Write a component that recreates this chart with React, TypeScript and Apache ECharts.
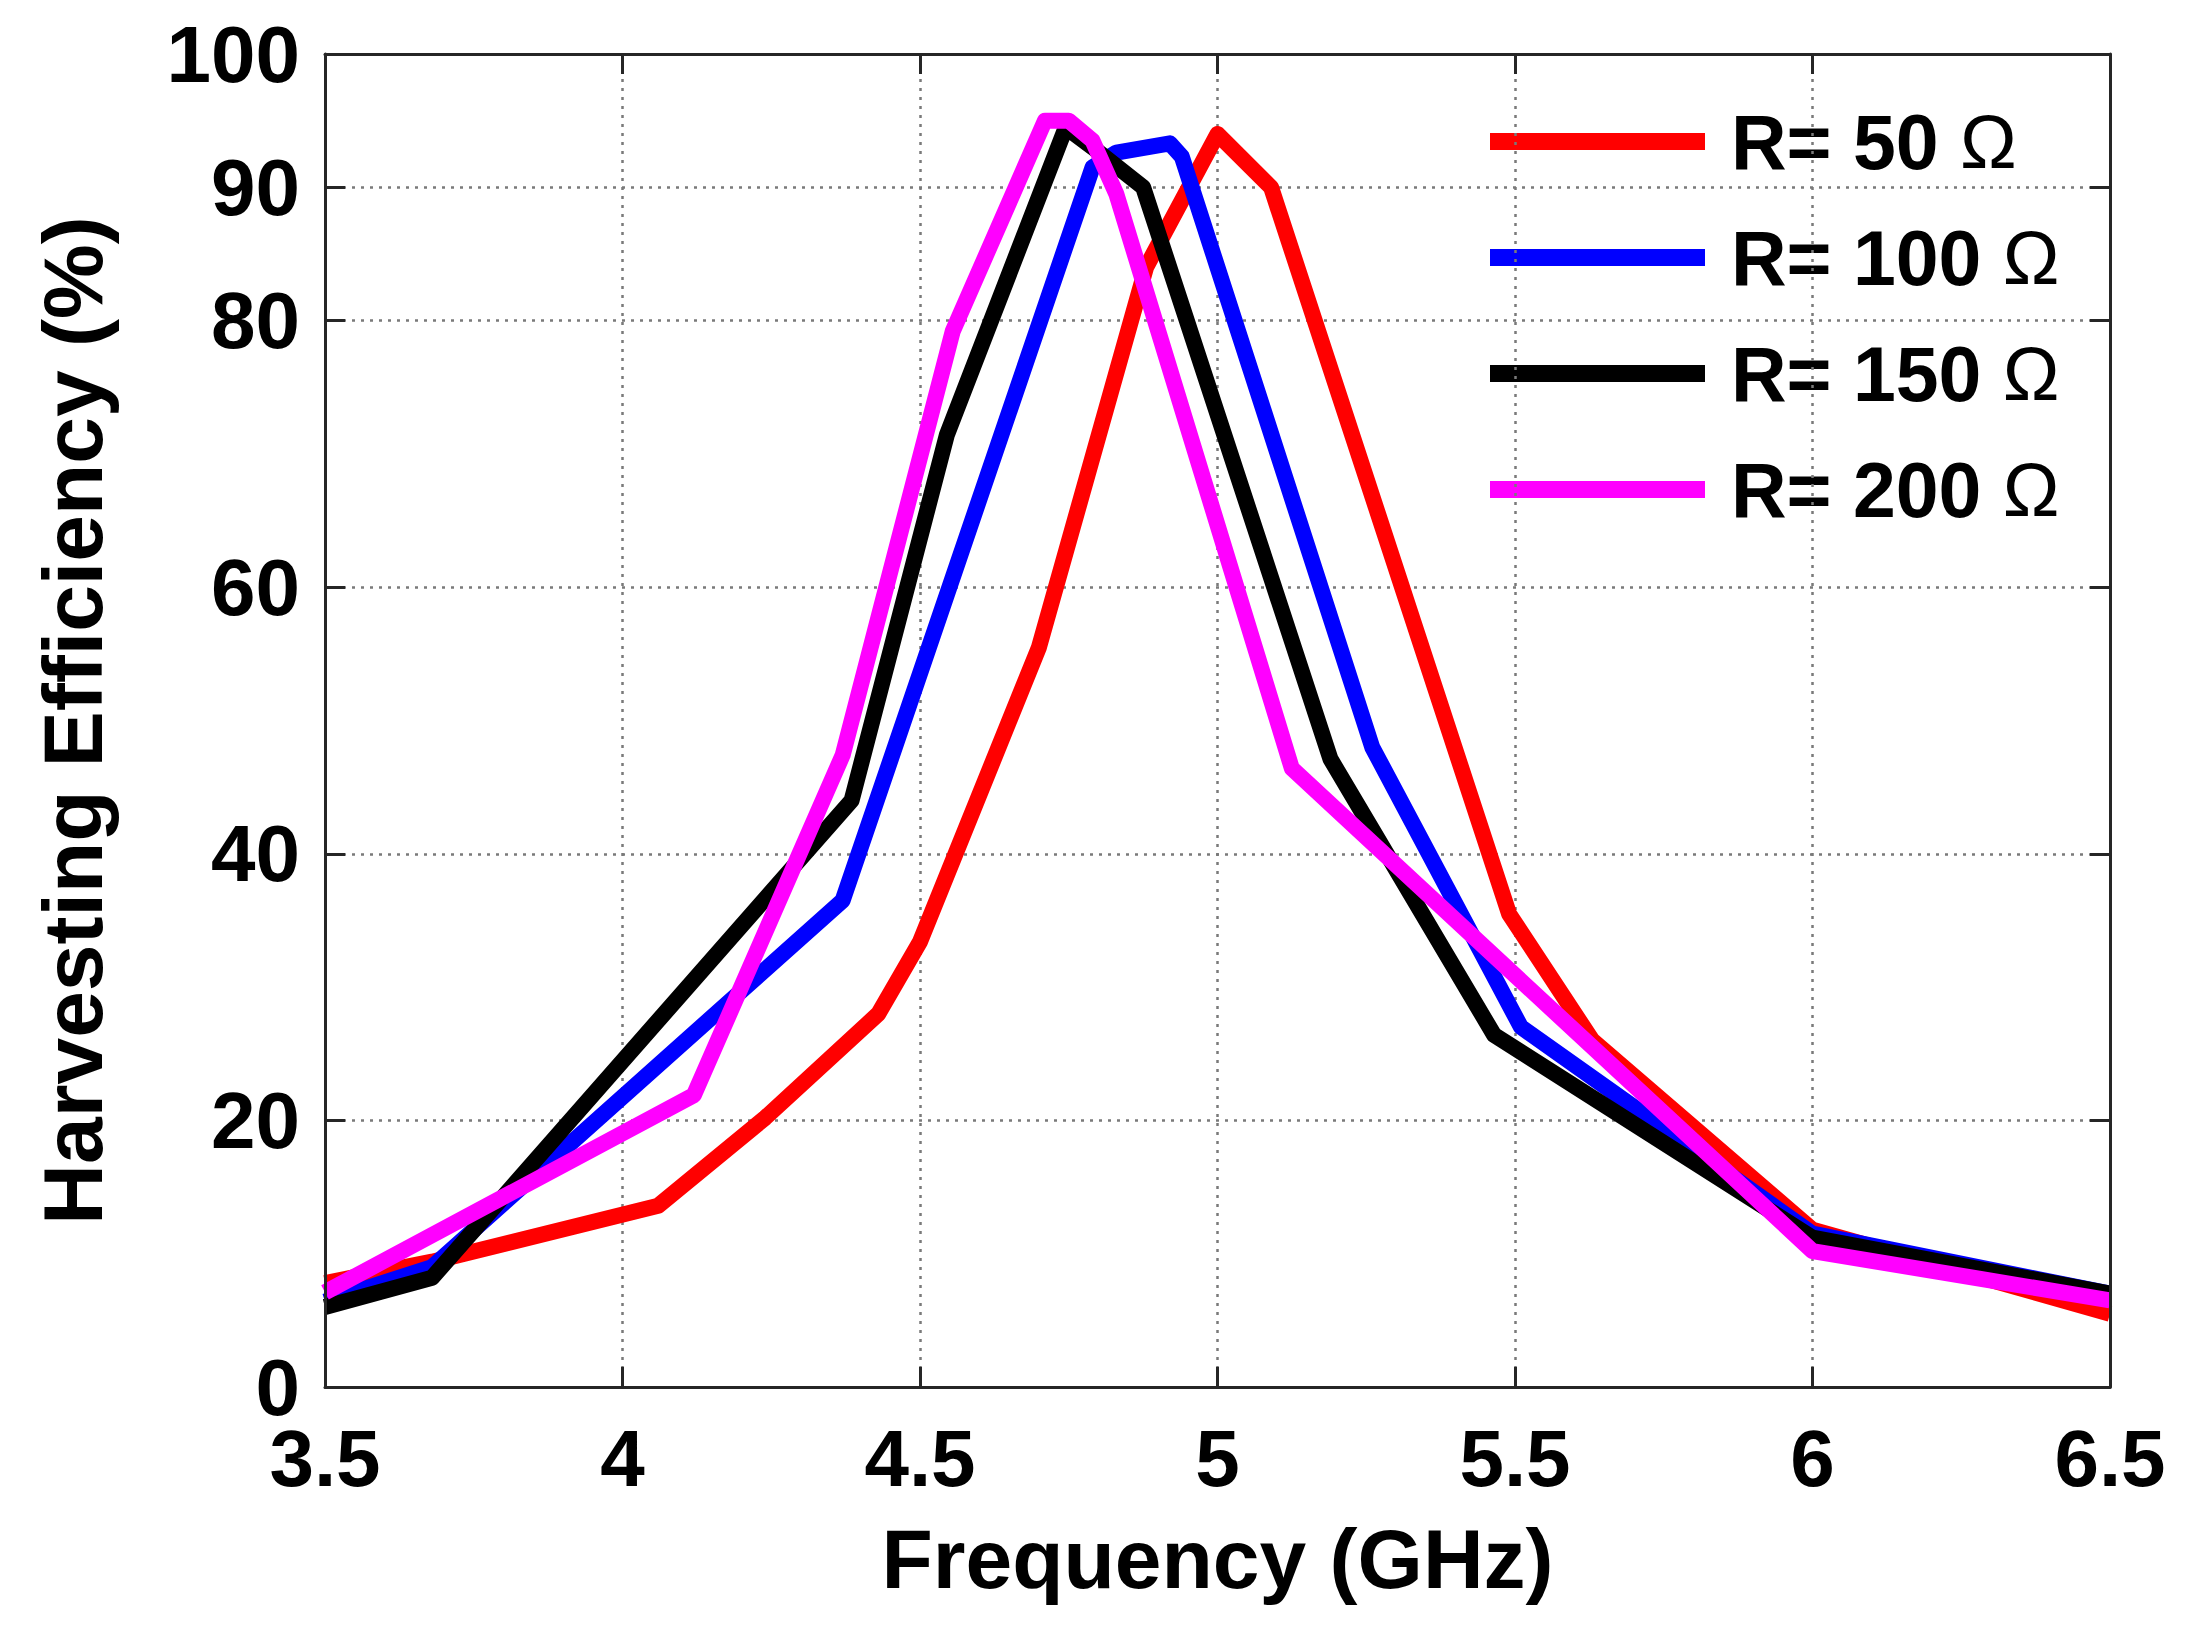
import { useEffect, useRef } from 'react';
import * as echarts from 'echarts';

const FONT = '"Liberation Sans", Arial, sans-serif';

// legend names, in draw order (later series sit on top)
const seriesNames = ['R= 50 Ω', 'R= 100 Ω', 'R= 150 Ω', 'R= 200 Ω'];
const seriesColors = ['#ff0000', '#0000ff', '#000000', '#ff00ff'];

// R = 50 ohm
const freq50 = [3.5, 3.68, 4.06, 4.24, 4.43, 4.5, 4.7, 4.88, 5.0, 5.09, 5.49, 5.63, 6.0, 6.5];
const eff50 = [7.8, 9.4, 13.6, 20.2, 28.0, 33.4, 55.5, 84.0, 94.0, 90.0, 35.5, 26.0, 11.8, 5.5];

// R = 100 ohm
const freq100 = [3.5, 3.68, 4.37, 4.79, 4.83, 4.92, 4.94, 5.26, 5.51, 6.0, 6.5];
const eff100 = [6.4, 9.0, 36.5, 91.5, 92.6, 93.3, 92.3, 48.0, 27.0, 11.5, 7.0];

// R = 150 ohm
const freq150 = [3.5, 3.68, 4.385, 4.545, 4.745, 4.79, 4.875, 5.19, 5.465, 6.0, 6.5];
const eff150 = [6.0, 8.2, 44.0, 71.4, 94.5, 93.0, 90.0, 47.1, 26.4, 11.2, 7.0];

// R = 200 ohm
const freq200 = [3.5, 4.12, 4.37, 4.555, 4.71, 4.75, 4.79, 4.83, 5.125, 6.0, 6.5];
const eff200 = [7.1, 21.9, 47.4, 79.2, 95.0, 95.0, 93.5, 89.5, 46.4, 10.2, 6.5];

const xTicks = [3.5, 4, 4.5, 5, 5.5, 6, 6.5];
const yTicks = [0, 20, 40, 60, 80, 90, 100];
const xGrid = [4, 4.5, 5, 5.5, 6];
const yGrid = [20, 40, 60, 80, 90];

const AXIS_COLOR = '#262626';

function zip(xs: number[], ys: number[]) {
  return xs.map((x, i) => [x, ys[i]]);
}

export default function App() {
  const elRef = useRef<HTMLDivElement | null>(null);

  useEffect(() => {
    if (!elRef.current) return;
    const chart = echarts.init(elRef.current, undefined, { renderer: 'svg' });

    const freqs = [freq50, freq100, freq150, freq200];
    const effs = [eff50, eff100, eff150, eff200];

    const axisCommon = {
      type: 'value' as const,
      z: 10,
      axisLine: { show: true, onZero: false, lineStyle: { color: AXIS_COLOR, width: 3 } },
      axisTick: { show: true, inside: true, length: 20, lineStyle: { color: AXIS_COLOR, width: 3 } },
      splitLine: { show: false },
    };

    const tickLabel = {
      fontSize: 80,
      fontWeight: 'bold' as const,
      color: '#000',
      fontFamily: FONT,
    };

    chart.setOption({
      animation: false,
      backgroundColor: '#ffffff',
      grid: { left: 325, right: 98, top: 54, bottom: 247 },
      xAxis: [
        {
          ...axisCommon,
          position: 'bottom',
          min: 3.5,
          max: 6.5,
          interval: 0.5,
          axisTick: { ...axisCommon.axisTick, customValues: xTicks },
          axisLabel: { ...tickLabel, margin: 31, customValues: xTicks },
          name: 'Frequency (GHz)',
          nameLocation: 'middle',
          nameGap: 130,
          nameTextStyle: { fontSize: 84, fontWeight: 'bold', color: '#000', fontFamily: FONT },
        },
        {
          ...axisCommon,
          position: 'top',
          min: 3.5,
          max: 6.5,
          interval: 0.5,
          axisTick: { ...axisCommon.axisTick, customValues: xTicks },
          axisLabel: { show: false },
        },
      ],
      yAxis: [
        {
          ...axisCommon,
          position: 'left',
          min: 0,
          max: 100,
          interval: 10,
          axisTick: { ...axisCommon.axisTick, customValues: yTicks },
          axisLabel: { ...tickLabel, margin: 25, customValues: yTicks },
          name: 'Harvesting Efficiency (%)',
          nameLocation: 'middle',
          nameGap: 210,
          nameTextStyle: { fontSize: 84, fontWeight: 'bold', color: '#000', fontFamily: FONT },
        },
        {
          ...axisCommon,
          position: 'right',
          min: 0,
          max: 100,
          interval: 10,
          axisTick: { ...axisCommon.axisTick, customValues: yTicks },
          axisLabel: { show: false },
        },
      ],
      legend: {
        data: seriesNames,
        orient: 'vertical',
        left: 1445,
        top: 58,
        padding: [45, 40, 40, 45],
        backgroundColor: '#ffffff',
        itemWidth: 215,
        itemHeight: 17,
        itemGap: 39,
        icon: 'rect',
        z: 3,
        selectedMode: false,
        formatter: (name: string) => `{b|${name.slice(0, -1)}}{o|Ω}`,
        textStyle: {
          fontSize: 77,
          fontWeight: 'bold',
          color: '#000',
          fontFamily: FONT,
          rich: {
            b: { fontSize: 77, fontWeight: 'bold', color: '#000', fontFamily: FONT, padding: [0, 0, 0, 21] },
            o: { fontSize: 76, fontWeight: 'normal', color: '#000', fontFamily: FONT },
          },
        },
      },
      series: [
        // dotted grid drawn as mark lines under the curves
        {
          name: 'grid',
          type: 'line',
          data: [],
          z: 1,
          silent: true,
          markLine: {
            silent: true,
            symbol: 'none',
            label: { show: false },
            lineStyle: { color: '#7a7a7a', width: 2.5, type: [3, 6] },
            data: [...xGrid.map((v) => ({ xAxis: v })), ...yGrid.map((v) => ({ yAxis: v }))],
          },
        },
        ...seriesNames.map((name, i) => ({
          name,
          type: 'line',
          data: zip(freqs[i], effs[i]),
          showSymbol: false,
          symbol: 'none',
          z: 5,
          color: seriesColors[i],
          lineStyle: { color: seriesColors[i], width: 16, join: 'round' },
        })),
      ],
    });

    return () => {
      chart.dispose();
    };
  }, []);

  return (
    <div
      ref={elRef}
      style={{ position: 'absolute', left: 0, top: 0, width: 2208, height: 1634, background: '#fff' }}
    />
  );
}
